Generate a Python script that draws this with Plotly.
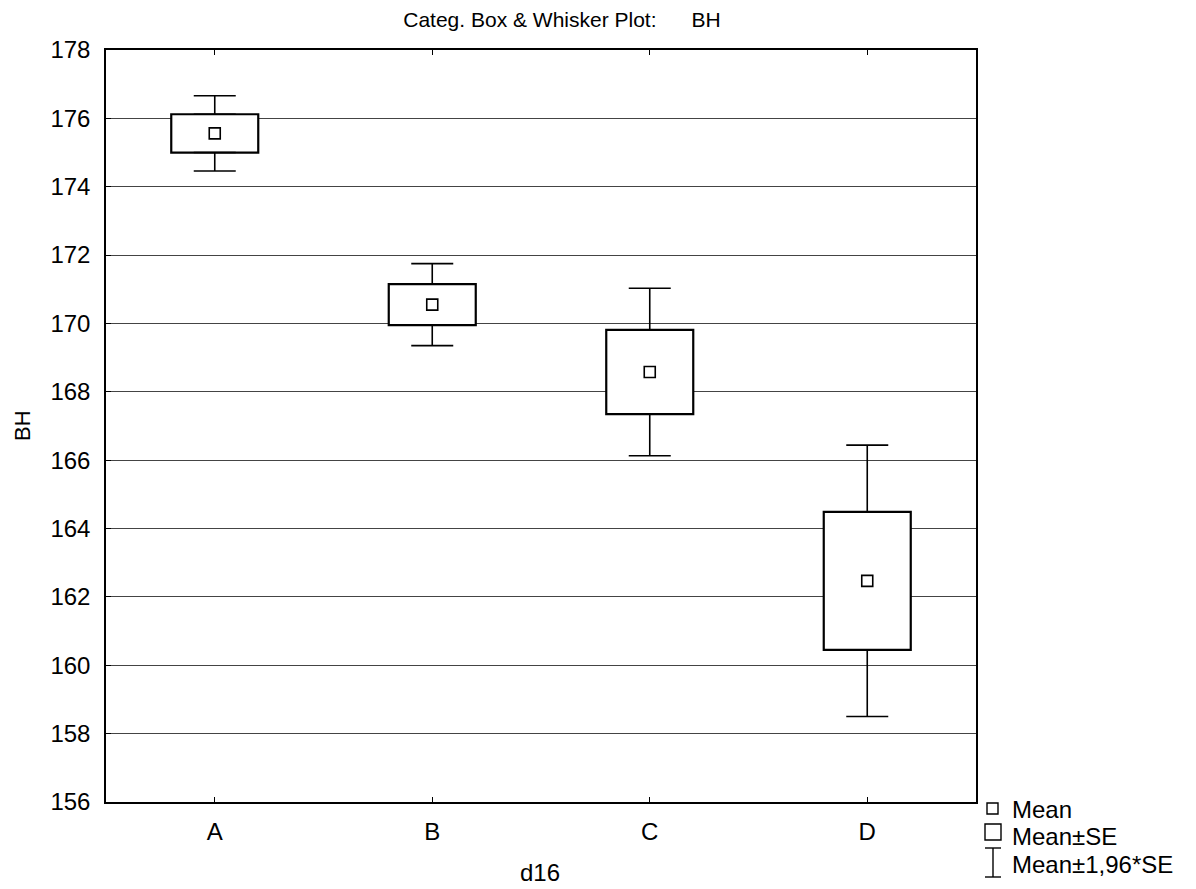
import plotly.graph_objects as go

# ---- data ----
categories = ["A", "B", "C", "D"]
means = [175.56, 170.55, 168.58, 162.47]
se = [0.56, 0.60, 1.23, 2.02]
ci196 = [1.10, 1.20, 2.45, 3.97]   # 1.96*SE half-widths

FONT = "Liberation Sans, Arial, sans-serif"
OFF = 8                      # page body margin in the browser
W, H = 1196 - OFF, 889 - OFF
L, T = 106 - OFF, 50 - OFF
PW, PH = 870, 752
R, B = W - L - PW, H - T - PH

# reference-pixel -> paper helpers (for title / legend text only)
def px(xp):
    return (xp - 106) / PW


def py(yp):
    return (802 - yp) / PH


box_low = [m - s for m, s in zip(means, se)]
box_high = [m + s for m, s in zip(means, se)]
box_size = [2 * s for s in se]
whisk_ext = [c - s for c, s in zip(ci196, se)]
zeros = [0] * len(categories)

fig = go.Figure()

# Mean ± SE boxes
fig.add_trace(go.Bar(
    x=categories, y=box_size, base=box_low, width=0.4,
    marker=dict(color="white", line=dict(color="black", width=2.2)),
    showlegend=False, hoverinfo="skip",
))

# upper whiskers (box top -> mean + 1.96 SE)
fig.add_trace(go.Scatter(
    x=categories, y=box_high, mode="markers",
    marker=dict(size=1, color="rgba(0,0,0,0)"),
    error_y=dict(type="data", symmetric=False, array=whisk_ext, arrayminus=zeros,
                 color="black", thickness=1.6, width=21),
    showlegend=False, hoverinfo="skip",
))
# lower whiskers
fig.add_trace(go.Scatter(
    x=categories, y=box_low, mode="markers",
    marker=dict(size=1, color="rgba(0,0,0,0)"),
    error_y=dict(type="data", symmetric=False, array=zeros, arrayminus=whisk_ext,
                 color="black", thickness=1.6, width=21),
    showlegend=False, hoverinfo="skip",
))
# Mean markers
fig.add_trace(go.Scatter(
    x=categories, y=means, mode="markers",
    marker=dict(symbol="square", size=11, color="white",
                line=dict(color="black", width=1.6)),
    showlegend=False, hoverinfo="skip",
))

fig.update_layout(
    width=W, height=H,
    margin=dict(l=L, r=R, t=T, b=B, autoexpand=False),
    paper_bgcolor="white", plot_bgcolor="white",
    font=dict(family=FONT, size=24, color="black"),
    showlegend=False,
    title=dict(text="Categ. Box & Whisker Plot:" + "\u00a0" * 6 + "BH",
               x=px(562), xref="paper", xanchor="center",
               y=1 - (20 - OFF) / H, yref="container", yanchor="middle",
               font=dict(family=FONT, size=21, color="black")),
)

fig.update_xaxes(
    type="category", range=[-0.5, 3.5],
    showline=True, linecolor="black", linewidth=1.5, mirror="ticks",
    ticks="inside", ticklen=5, tickcolor="black", tickwidth=1,
    showgrid=False, zeroline=False,
    tickfont=dict(family=FONT, size=24, color="black"),
    ticklabelstandoff=7,
)
fig.update_yaxes(
    range=[156, 178], dtick=2, tick0=156,
    showline=True, linecolor="black", linewidth=1.5, mirror=True,
    ticks="inside", ticklen=5, tickcolor="black", tickwidth=1,
    showgrid=True, gridcolor="#444444", gridwidth=1, zeroline=False,
    tickfont=dict(family=FONT, size=24, color="black"),
    ticklabelstandoff=9,
)

annotations = [
    dict(text="d16", x=px(540), y=py(872), xref="paper", yref="paper",
         xanchor="center", yanchor="middle", showarrow=False,
         font=dict(family=FONT, size=24, color="black")),
    dict(text="BH", x=px(22), y=py(426), xref="paper", yref="paper",
         xanchor="center", yanchor="middle", textangle=-90, showarrow=False,
         font=dict(family=FONT, size=22, color="black")),
]
legend_labels = ["Mean", "Mean±SE", "Mean±1,96*SE"]
legend_y = [809, 836, 864]
for lab, yy in zip(legend_labels, legend_y):
    annotations.append(dict(text=lab, x=px(1010), y=py(yy), xref="paper", yref="paper",
                            xanchor="left", yanchor="middle", showarrow=False,
                            font=dict(family=FONT, size=24, color="black")))
fig.update_layout(annotations=annotations)

shapes = [
    # small square (Mean)
    dict(type="rect", xref="paper", yref="paper", x0=px(987), x1=px(998),
         y0=py(814), y1=py(803), line=dict(color="black", width=1.4), fillcolor="white"),
    # larger square (Mean±SE)
    dict(type="rect", xref="paper", yref="paper", x0=px(985), x1=px(1001),
         y0=py(840), y1=py(824), line=dict(color="black", width=1.4), fillcolor="white"),
    # I-beam (Mean±1.96*SE)
    dict(type="line", xref="paper", yref="paper", x0=px(993), x1=px(993),
         y0=py(848), y1=py(877), line=dict(color="black", width=1.4)),
    dict(type="line", xref="paper", yref="paper", x0=px(985), x1=px(1001),
         y0=py(848), y1=py(848), line=dict(color="black", width=1.4)),
    dict(type="line", xref="paper", yref="paper", x0=px(985), x1=px(1001),
         y0=py(877), y1=py(877), line=dict(color="black", width=1.4)),
]
fig.update_layout(shapes=shapes)

fig.write_html("out.html")
